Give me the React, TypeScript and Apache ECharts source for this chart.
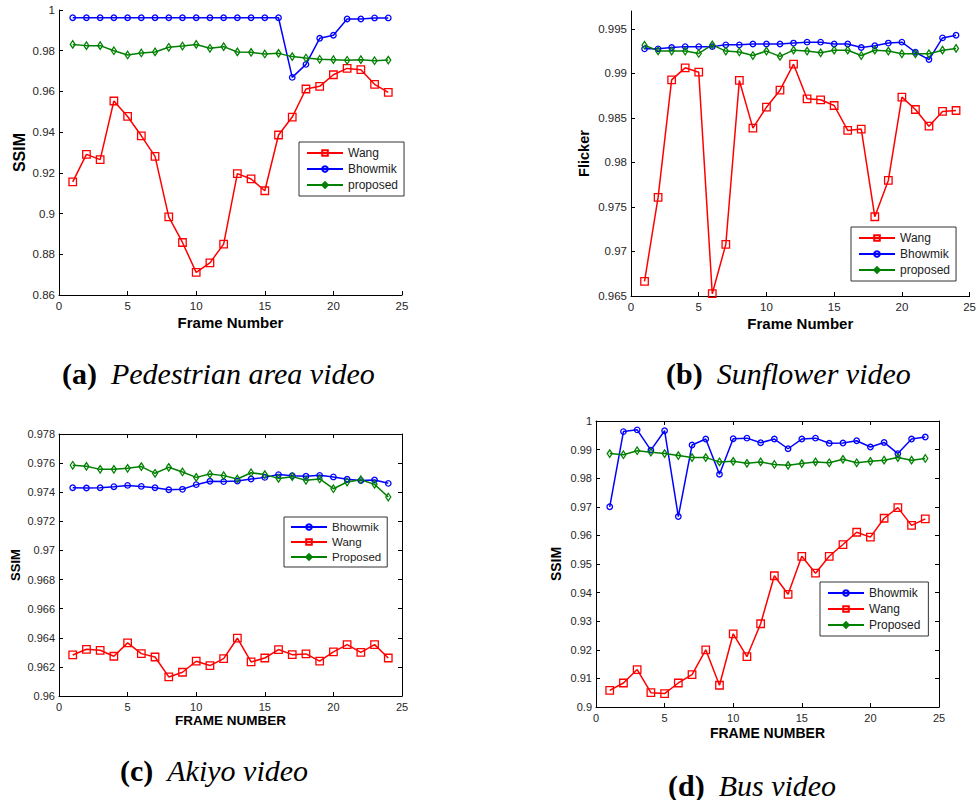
import React, { useEffect, useRef } from 'react';
import * as echarts from 'echarts';

const frames = [1, 2, 3, 4, 5, 6, 7, 8, 9, 10, 11, 12, 13, 14, 15, 16, 17, 18, 19, 20, 21, 22, 23, 24];

// (a) Pedestrian area video - SSIM
const aWang = [0.9156, 0.9291, 0.9265, 0.9553, 0.9477, 0.9382, 0.9281, 0.8984, 0.8858, 0.8711, 0.8758, 0.885, 0.9196, 0.917, 0.9112, 0.9386, 0.9474, 0.9612, 0.9625, 0.9682, 0.9713, 0.9707, 0.9635, 0.9595];
const aBhowmik = [0.9962, 0.9962, 0.9962, 0.9962, 0.9962, 0.9962, 0.9962, 0.9962, 0.9962, 0.9962, 0.9962, 0.9962, 0.9962, 0.9962, 0.9962, 0.9962, 0.9669, 0.9733, 0.9861, 0.9876, 0.9956, 0.9956, 0.9961, 0.9961];
const aProposed = [0.9831, 0.9825, 0.9825, 0.98, 0.9779, 0.9789, 0.9794, 0.9817, 0.9823, 0.9831, 0.9812, 0.982, 0.9794, 0.9792, 0.9784, 0.9787, 0.9771, 0.9764, 0.9758, 0.9756, 0.9753, 0.9756, 0.9751, 0.9754];

// (b) Sunflower video - Flicker
const bWang = [0.96665, 0.97607, 0.98927, 0.99062, 0.99013, 0.96526, 0.9708, 0.9892, 0.98385, 0.9862, 0.98811, 0.99103, 0.98714, 0.98703, 0.98639, 0.98359, 0.98374, 0.9739, 0.97798, 0.98733, 0.98594, 0.98407, 0.98572, 0.98583];
const bBhowmik = [0.99275, 0.99275, 0.9929, 0.993, 0.993, 0.993, 0.9932, 0.9932, 0.9933, 0.9933, 0.9933, 0.9934, 0.9935, 0.9935, 0.9933, 0.9933, 0.9929, 0.9931, 0.9934, 0.9935, 0.99237, 0.99155, 0.99398, 0.99428];
const bProposed = [0.99316, 0.99252, 0.9925, 0.9925, 0.99223, 0.9932, 0.9925, 0.9924, 0.992, 0.9925, 0.9919, 0.9926, 0.9925, 0.9923, 0.9926, 0.9926, 0.992, 0.9926, 0.9925, 0.9922, 0.9922, 0.9922, 0.9926, 0.9928];

// (c) Akiyo video - SSIM
const cBhowmik = [0.97431, 0.97429, 0.97431, 0.97438, 0.97447, 0.9744, 0.97431, 0.97417, 0.9742, 0.97452, 0.97475, 0.97473, 0.97477, 0.97491, 0.97502, 0.97521, 0.97514, 0.9751, 0.97516, 0.97505, 0.97489, 0.9748, 0.97484, 0.97461];
const cWang = [0.96282, 0.96321, 0.96314, 0.96273, 0.96365, 0.96291, 0.96268, 0.96131, 0.96163, 0.96239, 0.96209, 0.96257, 0.96397, 0.96234, 0.96261, 0.96319, 0.96284, 0.96289, 0.96239, 0.96303, 0.96353, 0.963, 0.96353, 0.96261];
const cProposed = [0.97585, 0.97578, 0.97557, 0.97557, 0.97564, 0.97576, 0.9753, 0.97571, 0.97539, 0.97502, 0.97525, 0.97514, 0.97491, 0.97534, 0.97521, 0.97495, 0.97507, 0.97482, 0.97491, 0.97424, 0.9747, 0.97486, 0.97454, 0.97367];

// (d) Bus video - SSIM
const dBhowmik = [0.97, 0.9963, 0.9969, 0.9898, 0.9966, 0.9666, 0.9916, 0.9937, 0.9814, 0.9938, 0.994, 0.9924, 0.9937, 0.9903, 0.9937, 0.994, 0.9922, 0.9923, 0.9931, 0.9909, 0.9925, 0.9886, 0.9937, 0.9944];
const dWang = [0.9058, 0.9084, 0.9131, 0.905, 0.9047, 0.9084, 0.9113, 0.92, 0.9076, 0.9256, 0.9176, 0.9291, 0.9459, 0.9394, 0.9527, 0.9468, 0.9527, 0.9568, 0.9611, 0.9594, 0.966, 0.9697, 0.9635, 0.9658];
const dProposed = [0.9886, 0.9882, 0.9896, 0.9891, 0.9886, 0.9879, 0.9872, 0.9872, 0.9857, 0.9859, 0.9852, 0.9857, 0.9848, 0.9845, 0.9851, 0.9857, 0.9854, 0.9866, 0.9854, 0.9859, 0.9863, 0.9872, 0.9863, 0.9869];

const xTicks = { min: 0, max: 25, interval: 5 };
const yA = { min: 0.86, max: 1, interval: 0.02 };
const yB = { min: 0.965, max: 0.997, interval: 0.005 };
const yC = { min: 0.96, max: 0.978, interval: 0.002 };
const yD = { min: 0.9, max: 1, interval: 0.01 };

const RED = '#ff0000';
const BLUE = '#0000ff';
const GREEN = '#008000';
const SANS = 'Liberation Sans';
const SERIF = 'Liberation Serif';

function pts(ys: number[]) {
  return frames.map((f, i) => [f, ys[i]]);
}

function mk(name: string, ys: number[], color: string, kind: string, idx: number) {
  const symbol = kind === 'sq' ? 'rect' : kind === 'ci' ? 'circle' : 'diamond';
  const size: any = kind === 'sq' ? 7.5 : kind === 'ci' ? 5.5 : [5, 7.5];
  return {
    type: 'line',
    name,
    data: pts(ys),
    xAxisIndex: idx,
    yAxisIndex: idx,
    symbol,
    symbolSize: size,
    showSymbol: true,
    showAllSymbol: true,
    lineStyle: { color, width: 1.5 },
    itemStyle: { color: 'rgba(255,255,255,0)', borderColor: color, borderWidth: 1.3 },
    emphasis: { disabled: true },
    silent: true,
  };
}

function xAx(idx: number, name: string, nameSize: number, gap: number, labelSize: number) {
  return {
    type: 'value',
    gridIndex: idx,
    ...xTicks,
    position: 'bottom',
    name,
    nameLocation: 'middle',
    nameGap: gap,
    nameTextStyle: { fontFamily: SANS, fontWeight: 'bold', fontSize: nameSize, color: '#000' },
    axisLine: { show: true, onZero: false, lineStyle: { color: '#000', width: 1 } },
    axisTick: { show: true, inside: true, length: 4, lineStyle: { color: '#000' } },
    axisLabel: { margin: 5, fontFamily: SANS, fontSize: labelSize, color: '#262626' },
    splitLine: { show: false },
  };
}

function yAx(idx: number, r: any, name: string, nameSize: number, gap: number, labelSize: number, hideMax: boolean) {
  return {
    type: 'value',
    gridIndex: idx,
    ...r,
    position: 'left',
    name,
    nameLocation: 'middle',
    nameGap: gap,
    nameTextStyle: { fontFamily: SANS, fontWeight: 'bold', fontSize: nameSize, color: '#000' },
    axisLine: { show: true, onZero: false, lineStyle: { color: '#000', width: 1 } },
    axisTick: { show: true, inside: true, length: 4, lineStyle: { color: '#000' } },
    axisLabel: { margin: 4, fontFamily: SANS, fontSize: labelSize, color: '#262626', showMaxLabel: !hideMax },
    splitLine: { show: false },
  };
}

function boxX(idx: number) {
  return {
    type: 'value',
    gridIndex: idx,
    ...xTicks,
    position: 'top',
    axisLine: { show: true, onZero: false, lineStyle: { color: '#000', width: 1 } },
    axisTick: { show: true, inside: true, length: 4, lineStyle: { color: '#000' } },
    axisLabel: { show: false },
    splitLine: { show: false },
  };
}

function boxY(idx: number, r: any) {
  return {
    type: 'value',
    gridIndex: idx,
    ...r,
    position: 'right',
    axisLine: { show: true, onZero: false, lineStyle: { color: '#000', width: 1 } },
    axisTick: { show: true, inside: true, length: 4, lineStyle: { color: '#000' } },
    axisLabel: { show: false },
    splitLine: { show: false },
  };
}

function leg(names: string[], left: number, top: number, padding: number[], gap: number, fs: number) {
  return {
    orient: 'vertical',
    left,
    top,
    data: names,
    padding,
    itemGap: gap,
    itemWidth: 36,
    itemHeight: 7,
    itemTextGap: 3,
    borderColor: '#333',
    borderWidth: 1,
    borderRadius: 0,
    backgroundColor: '#fff',
    selectedMode: false,
    textStyle: { fontFamily: SANS, fontSize: fs, color: '#222', padding: [0, 0, 0, 0] },
  };
}

function caption(x: number, y: number, lbl: string, txt: string) {
  return {
    type: 'text',
    x,
    y,
    style: {
      text: '{b|' + lbl + '}{s| }{i|' + txt + '}',
      verticalAlign: 'middle',
      align: 'left',
      fill: '#000',
      rich: {
        b: { fontFamily: SERIF, fontWeight: 'bold', fontSize: 30, fill: '#000' },
        s: { fontFamily: SERIF, fontSize: 30, width: 14, fill: '#000' },
        i: { fontFamily: SERIF, fontStyle: 'italic', fontSize: 30, fill: '#000' },
      },
    },
  };
}

export default function App() {
  const ref = useRef<HTMLDivElement>(null);
  useEffect(() => {
    if (!ref.current) return;
    const chart = echarts.init(ref.current, undefined, { renderer: 'svg' });
    const option: any = {
      animation: false,
      backgroundColor: '#fff',
      grid: [
        { left: 59, top: 10, width: 343, height: 285 },
        { left: 631, top: 11, width: 341, height: 285 },
        { left: 59, top: 434, width: 343, height: 262 },
        { left: 596, top: 421, width: 343, height: 286 },
      ],
      xAxis: [
        xAx(0, 'Frame Number', 15, 20, 11.5),
        xAx(1, 'Frame Number', 15, 20, 11.5),
        xAx(2, 'FRAME NUMBER', 13.5, 17, 11),
        xAx(3, 'FRAME NUMBER', 14, 19, 11),
        boxX(2),
        boxX(3),
      ],
      yAxis: [
        yAx(0, yA, 'SSIM', 16, 32, 11.5, false),
        yAx(1, yB, 'Flicker', 14.5, 40, 11.5, true),
        yAx(2, yC, 'SSIM', 13, 37, 11, false),
        yAx(3, yD, 'SSIM', 14, 33, 11, false),
        boxY(2, yC),
        boxY(3, yD),
      ],
      legend: [
        leg(['Wang', 'Bhowmik', 'proposed'], 299, 142, [5, 6, 5, 7], 4, 12),
        leg(['Wang', 'Bhowmik', 'proposed'], 851, 227, [5, 6, 5, 7], 4, 12),
        leg(['Bhowmik', 'Wang', 'Proposed'], 284, 517, [4, 6, 4, 6], 3, 11.5),
        leg(['Bhowmik', 'Wang', 'Proposed'], 820, 582, [5, 8, 5, 7], 4, 12),
      ],
      series: [
        mk('Wang', aWang, RED, 'sq', 0),
        mk('Bhowmik', aBhowmik, BLUE, 'ci', 0),
        mk('proposed', aProposed, GREEN, 'di', 0),
        mk('Wang', bWang, RED, 'sq', 1),
        mk('Bhowmik', bBhowmik, BLUE, 'ci', 1),
        mk('proposed', bProposed, GREEN, 'di', 1),
        mk('Bhowmik', cBhowmik, BLUE, 'ci', 2),
        mk('Wang', cWang, RED, 'sq', 2),
        mk('Proposed', cProposed, GREEN, 'di', 2),
        mk('Bhowmik', dBhowmik, BLUE, 'ci', 3),
        mk('Wang', dWang, RED, 'sq', 3),
        mk('Proposed', dProposed, GREEN, 'di', 3),
      ],
      graphic: [
        caption(62, 373, '(a)', 'Pedestrian area video'),
        caption(666, 373, '(b)', 'Sunflower video'),
        caption(120, 770, '(c)', 'Akiyo video'),
        caption(668, 785, '(d)', 'Bus video'),
      ],
    };
    chart.setOption(option);
    return () => chart.dispose();
  }, []);
  return <div ref={ref} style={{ position: 'absolute', left: 0, top: 0, width: 979, height: 800 }} />;
}
